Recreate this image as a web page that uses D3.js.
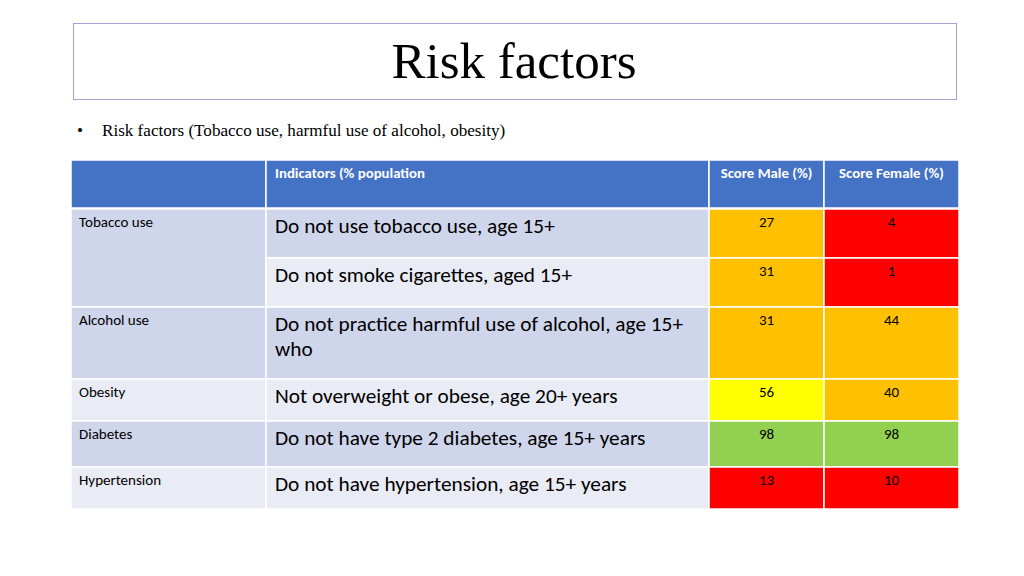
<!DOCTYPE html>
<html>
<head>
<meta charset="utf-8">
<script src="https://cdn.jsdelivr.net/npm/d3@7"></script>
<style>
  body { margin: 0; background: #fff; }
  svg { display: block; }
</style>
</head>
<body>
<div id="chart"></div>
<script>
'use strict';

// table content
var headers    = ['', 'Indicators (% population', 'Score Male (%)', 'Score Female (%)'];
var categories = ['Tobacco use', '', 'Alcohol use', 'Obesity', 'Diabetes', 'Hypertension'];
var catSpan    = [2, 0, 1, 1, 1, 1];
var indicators = [
    ['Do not use tobacco use, age 15+'],
    ['Do not smoke cigarettes, aged 15+'],
    ['Do not practice harmful use of alcohol, age 15+', 'who'],
    ['Not overweight or obese, age 20+ years'],
    ['Do not have type 2 diabetes, age 15+ years'],
    ['Do not have hypertension, age 15+ years']
];
var scoreMale   = [27, 31, 31, 56, 98, 13];
var scoreFemale = [4, 1, 44, 40, 98, 10];

var W = 1024, H = 576;
var colEdges = [71, 266, 709, 824, 959];
var rowHeights = [49, 49, 72, 42, 46, 42];
var tableTop = 160, headH = 48, bodyTop = 209;

var colorScale = d3.scaleThreshold()
    .domain([25, 50, 75])
    .range(['#ff0000', '#ffc000', '#ffff00', '#92d050']);

var bandDark = '#cfd5ea', bandLight = '#e9ebf5';

var svg = d3.select('#chart').append('svg')
    .attr('width', W).attr('height', H);

// title box
svg.append('rect')
    .attr('x', 73.5).attr('y', 23.5).attr('width', 883).attr('height', 76)
    .style('fill', 'none').style('stroke', '#a3a3d0').style('stroke-width', 1);

svg.append('text')
    .attr('x', 514).attr('y', 78)
    .style('text-anchor', 'middle')
    .style('font-family', '"Liberation Serif", serif')
    .style('font-size', '51px')
    .style('fill', '#000')
    .text('Risk factors');

svg.append('text')
    .attr('x', 77).attr('y', 136)
    .style('font-family', '"Liberation Serif", serif')
    .style('font-size', '17px')
    .text('\u2022');
svg.append('text')
    .attr('x', 102).attr('y', 136)
    .style('font-family', '"Liberation Serif", serif')
    .style('font-size', '17.1px')
    .text('Risk factors (Tobacco use, harmful use of alcohol, obesity)');

// row y positions
var rowY = [];
var acc = bodyTop;
rowHeights.forEach(function(h){ rowY.push(acc); acc += h; });

var font = 'Carlito, Calibri, "Open Sans", sans-serif';

// header
var head = svg.append('g').attr('class', 'head');
headers.forEach(function(t, i){
    head.append('rect')
        .attr('x', colEdges[i]).attr('y', tableTop)
        .attr('width', colEdges[i+1] - colEdges[i]).attr('height', headH)
        .style('fill', '#4472c4').style('stroke', '#fff').style('stroke-width', 1.5);
    var tx = head.append('text')
        .attr('y', tableTop + 18)
        .style('font-family', font).style('font-size', '14.8px')
        .style('font-weight', 'bold').style('fill', '#fff')
        .text(t);
    if (i < 2) tx.attr('x', colEdges[i] + 9);
    else tx.attr('x', (colEdges[i] + colEdges[i+1]) / 2).style('text-anchor', 'middle');
});

var body = svg.append('g').attr('class', 'body');

// category column
categories.forEach(function(c, i){
    if (catSpan[i] === 0) return;
    var h = 0;
    for (var k = 0; k < catSpan[i]; k++) h += rowHeights[i + k];
    var light = (c === 'Obesity' || c === 'Hypertension');
    body.append('rect')
        .attr('x', colEdges[0]).attr('y', rowY[i])
        .attr('width', colEdges[1] - colEdges[0]).attr('height', h)
        .style('fill', light ? bandLight : bandDark)
        .style('stroke', '#fff').style('stroke-width', 1.5);
    body.append('text')
        .attr('x', colEdges[0] + 8).attr('y', rowY[i] + 18)
        .style('font-family', font).style('font-size', '15px').style('fill', '#000')
        .text(c);
});

// indicator column
indicators.forEach(function(lines, i){
    body.append('rect')
        .attr('x', colEdges[1]).attr('y', rowY[i])
        .attr('width', colEdges[2] - colEdges[1]).attr('height', rowHeights[i])
        .style('fill', i % 2 === 0 ? bandDark : bandLight)
        .style('stroke', '#fff').style('stroke-width', 1.5);
    lines.forEach(function(l, j){
        body.append('text')
            .attr('x', colEdges[1] + 9).attr('y', rowY[i] + 24 + j * 25)
            .style('font-family', font).style('font-size', '21.3px').style('fill', '#000')
            .text(l);
    });
});

// score columns
[scoreMale, scoreFemale].forEach(function(vals, c){
    var col = c + 2;
    vals.forEach(function(v, i){
        body.append('rect')
            .attr('x', colEdges[col]).attr('y', rowY[i])
            .attr('width', colEdges[col+1] - colEdges[col]).attr('height', rowHeights[i])
            .style('fill', colorScale(v))
            .style('stroke', '#fff').style('stroke-width', 1.5);
        body.append('text')
            .attr('x', (colEdges[col] + colEdges[col+1]) / 2).attr('y', rowY[i] + 18)
            .style('text-anchor', 'middle')
            .style('font-family', font).style('font-size', '15px').style('fill', '#000')
            .text(v);
    });
});
</script>
</body>
</html>
